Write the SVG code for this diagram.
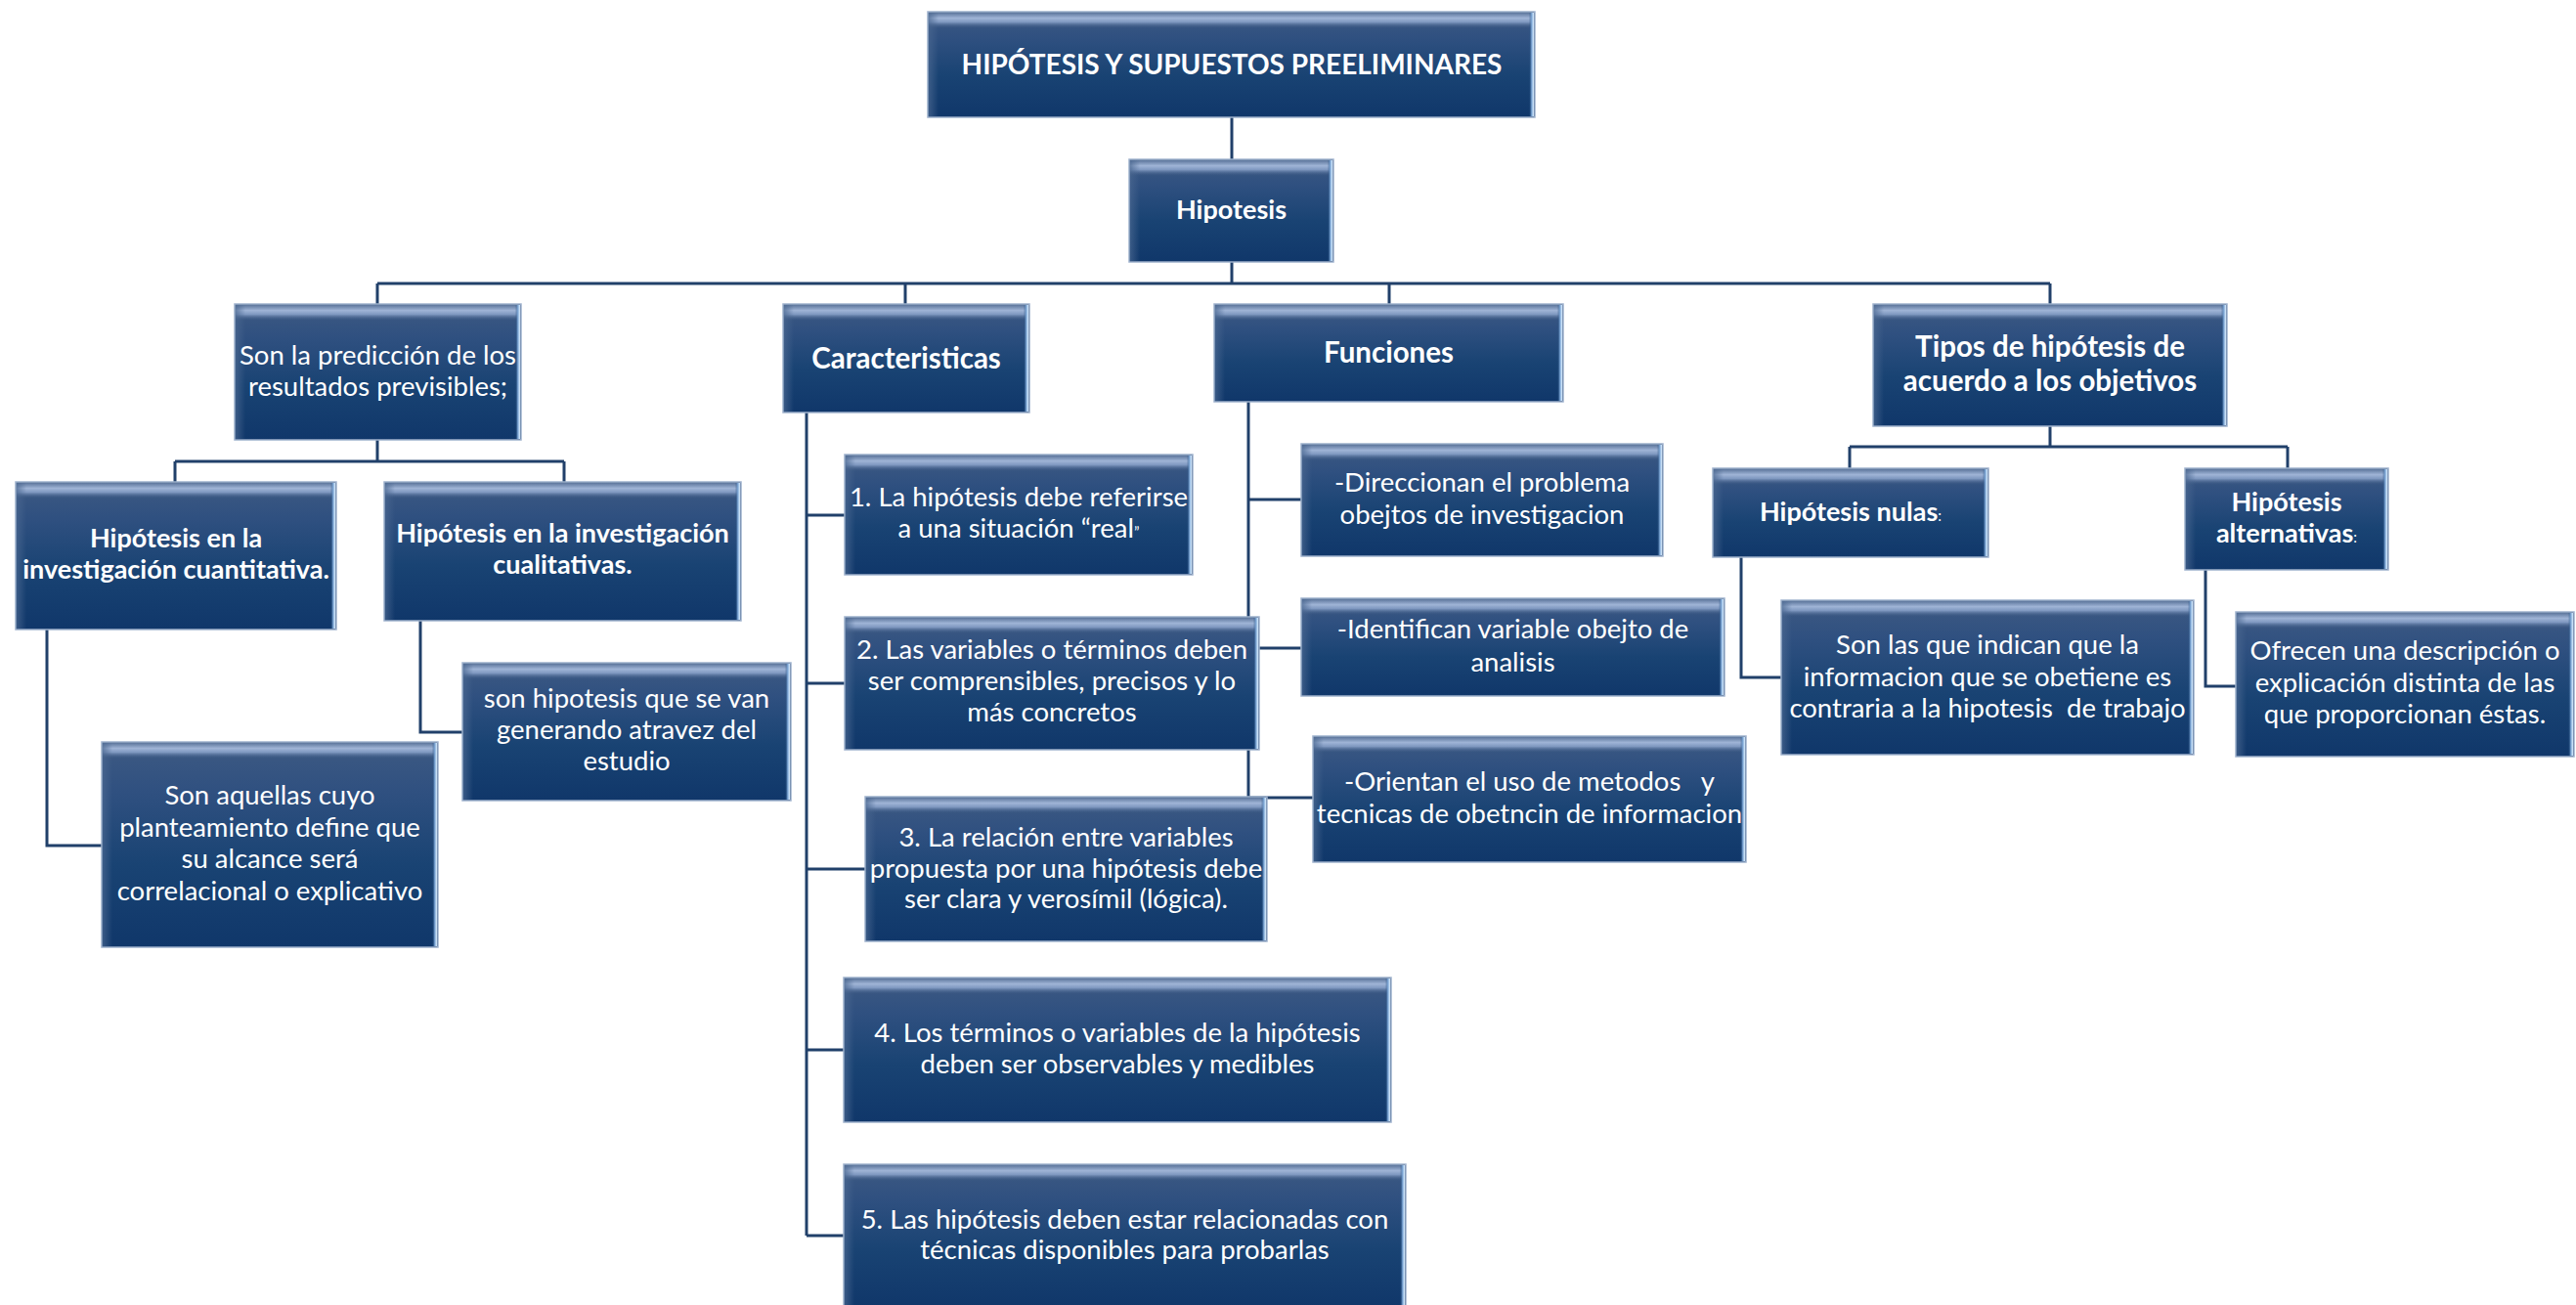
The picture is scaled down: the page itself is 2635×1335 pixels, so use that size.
<svg xmlns="http://www.w3.org/2000/svg" width="2635" height="1335" viewBox="0 0 2635 1335">
<defs>
<linearGradient id="gBody" x1="0" y1="0" x2="0" y2="1">
<stop offset="0" stop-color="#3e5a83"/>
<stop offset="0.25" stop-color="#2f5080"/>
<stop offset="0.6" stop-color="#194373"/>
<stop offset="1" stop-color="#10376a"/>
</linearGradient>
<linearGradient id="gTop" x1="0" y1="0" x2="0" y2="1">
<stop offset="0" stop-color="#5d769c"/>
<stop offset="0.35" stop-color="#9fb4d6"/>
<stop offset="0.6" stop-color="#7f98c0"/>
<stop offset="1" stop-color="#3e5a83" stop-opacity="0"/>
</linearGradient>
<linearGradient id="gRight" x1="0" y1="0" x2="1" y2="0">
<stop offset="0" stop-color="#1b4475" stop-opacity="0"/>
<stop offset="0.55" stop-color="#7fa9d8"/>
<stop offset="1" stop-color="#dcefff"/>
</linearGradient>
<linearGradient id="gLeft" x1="0" y1="0" x2="1" y2="0">
<stop offset="0" stop-color="#4a6790" stop-opacity="0.7"/>
<stop offset="1" stop-color="#4a6790" stop-opacity="0"/>
</linearGradient>
</defs>
<style>
.b{fill:url(#gBody);stroke:#9fb2cd;stroke-width:1.5}
.bt{fill:url(#gTop)}
.br{fill:url(#gRight)}
.bl{fill:url(#gLeft)}
.t{font-family:Lato,"Liberation Sans",sans-serif;font-size:27.5px;fill:#ffffff;text-anchor:middle}
.tb{font-family:Lato,"Liberation Sans",sans-serif;font-size:27px;font-weight:bold;fill:#ffffff;text-anchor:middle}
.tbl{font-size:29.5px}
.sm{font-size:15px;font-weight:normal}
.c{fill:none;stroke:#21406a;stroke-width:3}
</style>
<rect width="2635" height="1335" fill="#ffffff"/>

<g id="connectors">
<path class="c" d="M1260 120V163M1260 268V290M386 290H2097M386 290V311M926 290V311M1421 290V311M2097 290V311"/>
<path class="c" d="M386 450V472M179 472H577M179 472V493M577 472V493"/>
<path class="c" d="M48 644V865H104M430 635V749H473"/>
<path class="c" d="M825 422V1264M825 527H864M825 699H864M825 889H885M825 1074H863M825 1264H863"/>
<path class="c" d="M1277 411V816H1343M1277 511H1331M1277 663H1331"/>
<path class="c" d="M2097 436V457M1892 457H2340M1892 457V479M2340 457V479"/>
<path class="c" d="M1781 570V693H1822M2256 583V702H2287"/>
</g>

<g id="n-title">
<rect class="b" x="949" y="12" width="621" height="108"/><rect class="bt" x="950" y="13" width="619" height="16"/><rect class="bl" x="950" y="13" width="10" height="106"/><rect class="br" x="1564" y="13" width="5" height="106"/>
<text class="tb" x="1260" y="76" style="font-size:28px">HIPÓTESIS Y SUPUESTOS PREELIMINARES</text>
</g>

<g id="n-hipotesis">
<rect class="b" x="1155" y="163" width="209" height="105"/><rect class="bt" x="1156" y="164" width="207" height="16"/><rect class="bl" x="1156" y="164" width="10" height="103"/><rect class="br" x="1358" y="164" width="5" height="103"/>
<text class="tb" x="1259.5" y="224">Hipotesis</text>
</g>

<g id="n-prediccion">
<rect class="b" x="240" y="311" width="293" height="139"/><rect class="bt" x="241" y="312" width="291" height="16"/><rect class="bl" x="241" y="312" width="10" height="137"/><rect class="br" x="527" y="312" width="5" height="137"/>
<text class="t" x="386.5" y="373">Son la predicción de los</text>
<text class="t" x="386.5" y="405">resultados previsibles;</text>
</g>

<g id="n-caracteristicas">
<rect class="b" x="801" y="311" width="252" height="111"/><rect class="bt" x="802" y="312" width="250" height="16"/><rect class="bl" x="802" y="312" width="10" height="109"/><rect class="br" x="1047" y="312" width="5" height="109"/>
<text class="tb tbl" x="927" y="377">Caracteristicas</text>
</g>

<g id="n-funciones">
<rect class="b" x="1242" y="311" width="357" height="100"/><rect class="bt" x="1243" y="312" width="355" height="16"/><rect class="bl" x="1243" y="312" width="10" height="98"/><rect class="br" x="1593" y="312" width="5" height="98"/>
<text class="tb tbl" x="1420.5" y="371">Funciones</text>
</g>

<g id="n-tipos">
<rect class="b" x="1916" y="311" width="362" height="125"/><rect class="bt" x="1917" y="312" width="360" height="16"/><rect class="bl" x="1917" y="312" width="10" height="123"/><rect class="br" x="2272" y="312" width="5" height="123"/>
<text class="tb tbl" x="2097" y="365">Tipos de hipótesis de</text>
<text class="tb tbl" x="2097" y="400">acuerdo a los objetivos</text>
</g>

<g id="n-cuantitativa">
<rect class="b" x="16" y="493" width="328" height="151"/><rect class="bt" x="17" y="494" width="326" height="16"/><rect class="bl" x="17" y="494" width="10" height="149"/><rect class="br" x="338" y="494" width="5" height="149"/>
<text class="tb" x="180" y="560">Hipótesis en la</text>
<text class="tb" x="180" y="592">investigación cuantitativa.</text>
</g>

<g id="n-cualitativa">
<rect class="b" x="393" y="493" width="365" height="142"/><rect class="bt" x="394" y="494" width="363" height="16"/><rect class="bl" x="394" y="494" width="10" height="140"/><rect class="br" x="752" y="494" width="5" height="140"/>
<text class="tb" x="575.5" y="555">Hipótesis en la investigación</text>
<text class="tb" x="575.5" y="587">cualitativas.</text>
</g>

<g id="n-aquellas">
<rect class="b" x="104" y="759" width="344" height="210"/><rect class="bt" x="105" y="760" width="342" height="16"/><rect class="bl" x="105" y="760" width="10" height="208"/><rect class="br" x="442" y="760" width="5" height="208"/>
<text class="t" x="276" y="823">Son aquellas cuyo</text>
<text class="t" x="276" y="855.5">planteamiento define que</text>
<text class="t" x="276" y="888">su alcance será</text>
<text class="t" x="276" y="920.5">correlacional o explicativo</text>
</g>

<g id="n-generando">
<rect class="b" x="473" y="678" width="336" height="141"/><rect class="bt" x="474" y="679" width="334" height="16"/><rect class="bl" x="474" y="679" width="10" height="139"/><rect class="br" x="803" y="679" width="5" height="139"/>
<text class="t" x="641" y="724">son hipotesis que se van</text>
<text class="t" x="641" y="756">generando atravez del</text>
<text class="t" x="641" y="788">estudio</text>
</g>

<g id="n-car1">
<rect class="b" x="864" y="465" width="356" height="123"/><rect class="bt" x="865" y="466" width="354" height="16"/><rect class="bl" x="865" y="466" width="10" height="121"/><rect class="br" x="1214" y="466" width="5" height="121"/>
<text class="t" x="1042" y="518">1. La hipótesis debe referirse</text>
<text class="t" x="1042" y="550">a una situación “real<tspan class="sm">”</tspan></text>
</g>

<g id="n-car2">
<rect class="b" x="864" y="631" width="424" height="136"/><rect class="bt" x="865" y="632" width="422" height="16"/><rect class="bl" x="865" y="632" width="10" height="134"/><rect class="br" x="1282" y="632" width="5" height="134"/>
<text class="t" x="1076" y="674">2. Las variables o términos deben</text>
<text class="t" x="1076" y="706">ser comprensibles, precisos y lo</text>
<text class="t" x="1076" y="738">más concretos</text>
</g>

<g id="n-car3">
<rect class="b" x="885" y="815" width="411" height="148"/><rect class="bt" x="886" y="816" width="409" height="16"/><rect class="bl" x="886" y="816" width="10" height="146"/><rect class="br" x="1290" y="816" width="5" height="146"/>
<text class="t" x="1090.5" y="866">3. La relación entre variables</text>
<text class="t" x="1090.5" y="898">propuesta por una hipótesis debe</text>
<text class="t" x="1090.5" y="929">ser clara y verosímil (lógica).</text>
</g>

<g id="n-car4">
<rect class="b" x="863" y="1000" width="560" height="148"/><rect class="bt" x="864" y="1001" width="558" height="16"/><rect class="bl" x="864" y="1001" width="10" height="146"/><rect class="br" x="1417" y="1001" width="5" height="146"/>
<text class="t" x="1143" y="1066">4. Los términos o variables de la hipótesis</text>
<text class="t" x="1143" y="1098">deben ser observables y medibles</text>
</g>

<g id="n-car5">
<rect class="b" x="863" y="1191" width="575" height="146"/><rect class="bt" x="864" y="1192" width="573" height="16"/><rect class="bl" x="864" y="1192" width="10" height="143"/><rect class="br" x="1432" y="1192" width="5" height="143"/>
<text class="t" x="1150.5" y="1257">5. Las hipótesis deben estar relacionadas con</text>
<text class="t" x="1150.5" y="1288">técnicas disponibles para probarlas</text>
</g>

<g id="n-fun1">
<rect class="b" x="1331" y="454" width="370" height="115"/><rect class="bt" x="1332" y="455" width="368" height="16"/><rect class="bl" x="1332" y="455" width="10" height="113"/><rect class="br" x="1695" y="455" width="5" height="113"/>
<text class="t" x="1516" y="503">-Direccionan el problema</text>
<text class="t" x="1516" y="536">obejtos de investigacion</text>
</g>

<g id="n-fun2">
<rect class="b" x="1331" y="612" width="433" height="100"/><rect class="bt" x="1332" y="613" width="431" height="16"/><rect class="bl" x="1332" y="613" width="10" height="98"/><rect class="br" x="1758" y="613" width="5" height="98"/>
<text class="t" x="1547.5" y="653">-Identifican variable obejto de</text>
<text class="t" x="1547.5" y="687">analisis</text>
</g>

<g id="n-fun3">
<rect class="b" x="1343" y="753" width="443" height="129"/><rect class="bt" x="1344" y="754" width="441" height="16"/><rect class="bl" x="1344" y="754" width="10" height="127"/><rect class="br" x="1780" y="754" width="5" height="127"/>
<text class="t" x="1564.5" y="809" xml:space="preserve">-Orientan el uso de metodos   y</text>
<text class="t" x="1564.5" y="842">tecnicas de obetncin de informacion</text>
</g>

<g id="n-nulas">
<rect class="b" x="1752" y="479" width="282" height="91"/><rect class="bt" x="1753" y="480" width="280" height="16"/><rect class="bl" x="1753" y="480" width="10" height="89"/><rect class="br" x="2028" y="480" width="5" height="89"/>
<text class="tb" x="1893" y="533">Hipótesis nulas<tspan class="sm">:</tspan></text>
</g>

<g id="n-alternativas">
<rect class="b" x="2235" y="479" width="208" height="104"/><rect class="bt" x="2236" y="480" width="206" height="16"/><rect class="bl" x="2236" y="480" width="10" height="102"/><rect class="br" x="2437" y="480" width="5" height="102"/>
<text class="tb" x="2339" y="523">Hipótesis</text>
<text class="tb" x="2339" y="555">alternativas<tspan class="sm">:</tspan></text>
</g>

<g id="n-nulas-desc">
<rect class="b" x="1822" y="614" width="422" height="158"/><rect class="bt" x="1823" y="615" width="420" height="16"/><rect class="bl" x="1823" y="615" width="10" height="156"/><rect class="br" x="2238" y="615" width="5" height="156"/>
<text class="t" x="2033" y="669">Son las que indican que la</text>
<text class="t" x="2033" y="702">informacion que se obetiene es</text>
<text class="t" x="2033" y="734" xml:space="preserve">contraria a la hipotesis  de trabajo</text>
</g>

<g id="n-alt-desc">
<rect class="b" x="2287" y="626" width="346" height="148"/><rect class="bt" x="2288" y="627" width="344" height="16"/><rect class="bl" x="2288" y="627" width="10" height="146"/><rect class="br" x="2627" y="627" width="5" height="146"/>
<text class="t" x="2460" y="675">Ofrecen una descripción o</text>
<text class="t" x="2460" y="708">explicación distinta de las</text>
<text class="t" x="2460" y="740">que proporcionan éstas.</text>
</g>
</svg>
